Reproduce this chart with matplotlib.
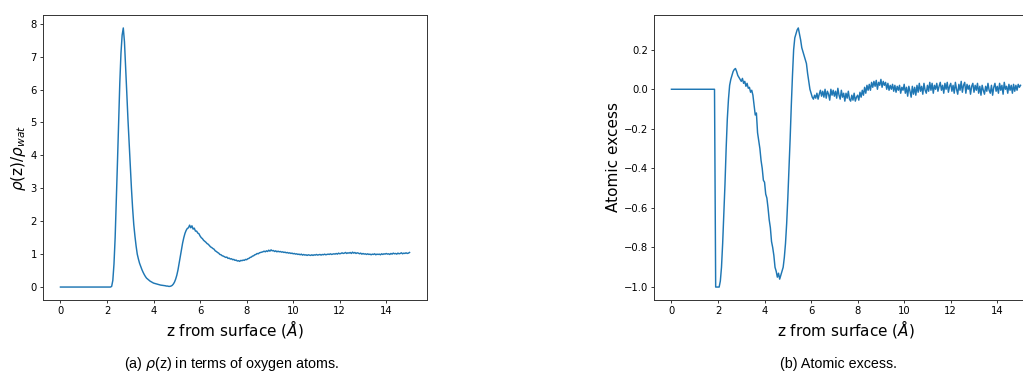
import numpy as np
import matplotlib
matplotlib.use("Agg")
from matplotlib import pyplot as plt

# density profile of oxygen atoms, rho(z)/rho_wat, one value every 0.05 A (rows of 0.5 A)
rho = [
    0, 0, 0, 0, 0, 0, 0, 0, 0, 0,
    0, 0, 0, 0, 0, 0, 0, 0, 0, 0,
    0, 0, 0, 0, 0, 0, 0, 0, 0, 0,
    0, 0, 0, 0, 0, 0, 0, 0, 0, 0,
    0, 0, 0, 0, 0.02, 0.2, 0.7, 1.5, 2.6, 3.8,
    5.0, 6.2, 7.1, 7.65, 7.87, 7.45, 6.7, 5.9, 5.1, 4.4,
    3.7, 3.0, 2.4, 1.9, 1.55, 1.25, 1.0, 0.85, 0.72, 0.62,
    0.53, 0.45, 0.38, 0.32, 0.27, 0.24, 0.21, 0.18, 0.16, 0.14,
    0.12, 0.11, 0.1, 0.09, 0.08, 0.07, 0.06, 0.055, 0.05, 0.045,
    0.04, 0.03, 0.03, 0.02, 0.02, 0.03, 0.05, 0.09, 0.15, 0.24,
    0.36, 0.52, 0.72, 0.93, 1.14, 1.34, 1.5, 1.63, 1.72, 1.78,
    1.8, 1.88, 1.8, 1.86, 1.76, 1.79, 1.7, 1.7, 1.64, 1.62,
    1.55, 1.5, 1.47, 1.42, 1.39, 1.36, 1.32, 1.3, 1.26, 1.22,
    1.2, 1.17, 1.15, 1.1, 1.08, 1.05, 1.03, 0.99, 0.98, 0.95,
    0.94, 0.92, 0.9, 0.91, 0.87, 0.88, 0.85, 0.86, 0.83, 0.84,
    0.81, 0.82, 0.79, 0.8, 0.78, 0.81, 0.8, 0.82, 0.81, 0.84,
    0.83, 0.86, 0.87, 0.9, 0.91, 0.94, 0.95, 0.98, 0.99, 1.02,
    1.01, 1.04, 1.05, 1.06, 1.07, 1.09, 1.07, 1.1, 1.08, 1.12,
    1.09, 1.13, 1.1, 1.11, 1.08, 1.1, 1.07, 1.09, 1.07, 1.08,
    1.06, 1.07, 1.05, 1.06, 1.04, 1.05, 1.03, 1.04, 1.02, 1.03,
    1.01, 1.02, 1.0, 1.01, 0.99, 1.0, 0.98, 1.0, 0.97, 0.99,
    0.97, 0.98, 0.96, 0.98, 0.97, 0.96, 0.98, 0.96, 0.98, 0.97,
    0.99, 0.97, 0.98, 0.99, 0.97, 0.99, 0.98, 1.0, 0.98, 0.99,
    1.0, 0.99, 1.01, 0.99, 1.0, 1.01, 1.0, 1.02, 1.0, 1.03,
    1.01, 1.02, 1.04, 1.02, 1.03, 1.05, 1.02, 1.04, 1.03, 1.05,
    1.02, 1.06, 1.03, 1.05, 1.02, 1.04, 1.03, 1.01, 1.03, 1.0,
    1.02, 1.0, 1.01, 0.99, 1.01, 0.99, 1.0, 0.98, 1.0, 0.99,
    1.01, 0.98, 1.0, 0.99, 1.0, 0.98, 1.01, 0.99, 1.01, 1.0,
    1.02, 1.0, 1.01, 0.99, 1.02, 1.0, 1.03, 1.01, 1.02, 1.0,
    1.03, 1.01, 1.02, 1.04, 1.01, 1.03, 1.02, 1.04, 1.02, 1.03,
    1.05,
]

# atomic excess, same spacing
excess = [
    0, 0, 0, 0, 0, 0, 0, 0, 0, 0,
    0, 0, 0, 0, 0, 0, 0, 0, 0, 0,
    0, 0, 0, 0, 0, 0, 0, 0, 0, 0,
    0, 0, 0, 0, 0, 0, 0, 0, -1.0, -1.0,
    -1.0, -1.0, -0.97, -0.9, -0.78, -0.63, -0.48, -0.3, -0.15, -0.05,
    0.02, 0.05, 0.07, 0.09, 0.1, 0.105, 0.09, 0.07, 0.06, 0.05,
    0.04, 0.055, 0.03, 0.04, 0.015, 0.03, 0.005, 0.01, -0.015, -0.005,
    -0.03, -0.08, -0.13, -0.12, -0.22, -0.26, -0.3, -0.36, -0.4, -0.46,
    -0.47, -0.53, -0.55, -0.6, -0.66, -0.7, -0.77, -0.8, -0.84, -0.9,
    -0.92, -0.95, -0.93, -0.96, -0.94, -0.92, -0.9, -0.85, -0.78, -0.68,
    -0.55, -0.4, -0.25, -0.08, 0.07, 0.2, 0.26, 0.28, 0.3, 0.31,
    0.28, 0.25, 0.21, 0.19, 0.17, 0.15, 0.13, 0.08, 0.04, 0.0,
    -0.02, -0.04, -0.05, -0.03, -0.045, -0.02, -0.05, -0.025, -0.005, -0.035,
    -0.01, -0.04, 0.0, -0.045, -0.01, -0.025, -0.055, 0.0, -0.03, -0.005,
    -0.035, -0.01, -0.045, 0.005, -0.03, -0.05, -0.005, -0.04, -0.02, -0.06,
    -0.02, -0.045, -0.01, -0.05, -0.06, -0.03, -0.055, -0.02, -0.06, -0.04,
    -0.03, -0.055, -0.015, -0.04, -0.005, -0.03, 0.01, -0.02, 0.02, -0.005,
    0.025, -0.005, 0.035, 0.01, 0.04, 0.015, 0.045, 0.0, 0.035, 0.02,
    0.05, 0.01, 0.04, 0.02, 0.035, 0.0, 0.03, -0.005, 0.02, 0.0,
    0.025, -0.01, 0.02, -0.015, 0.015, -0.005, 0.02, -0.02, 0.01, -0.005,
    0.025, -0.02, 0.01, -0.035, 0.015, -0.01, -0.04, 0.015, -0.025, 0.01,
    -0.03, 0.02, -0.015, 0.03, -0.01, 0.015, -0.025, 0.03, -0.005, -0.02,
    0.02, -0.01, 0.035, -0.005, 0.03, -0.02, 0.02, 0.0, 0.03, -0.01,
    0.015, 0.035, -0.005, 0.02, -0.02, 0.03, 0.0, 0.035, -0.015, 0.015,
    0.03, -0.01, 0.02, -0.02, 0.035, 0.0, -0.025, 0.025, -0.005, 0.04,
    -0.015, 0.02, 0.035, -0.02, 0.025, 0.0, 0.02, -0.025, 0.015, 0.03,
    -0.015, 0.02, -0.005, 0.03, -0.02, 0.015, -0.03, 0.02, -0.005, -0.025,
    0.015, -0.01, 0.03, -0.005, -0.02, 0.02, -0.03, 0.01, 0.03, -0.01,
    0.015, -0.02, 0.03, -0.005, 0.02, -0.025, 0.035, 0.0, 0.015, -0.02,
    0.025, -0.005, 0.02, -0.02, 0.025, -0.01, 0.02, -0.005, 0.025, 0.01,
    0.02,
]

z_rho = np.linspace(0, 15, len(rho))
z_exc = np.linspace(0, 15, len(excess))

xlabel = r"z from surface ($\AA$)"
captions = [r"(a) $\rho$(z) in terms of oxygen atoms.", "(b) Atomic excess."]

fig = plt.figure(figsize=(10.23, 3.71), dpi=100)

tick_kw = dict(labelsize=7.2, length=2.4, width=0.55, pad=2)

ax1 = fig.add_axes([43 / 1023, 71 / 371, 384 / 1023, 285 / 371])
ax1.plot(z_rho, rho, color="#1f77b4", lw=1.05)
ax1.set_xlabel(xlabel, fontsize=11, labelpad=1)
ax1.set_ylabel(r"$\rho$(z)/$\rho_{wat}$", fontsize=11, labelpad=2)
ax1.set_xticks(np.arange(0, 15, 2))

ax2 = fig.add_axes([654 / 1023, 71 / 371, 384 / 1023, 285 / 371])
ax2.plot(z_exc, excess, color="#1f77b4", lw=1.05)
ax2.set_xlabel(xlabel, fontsize=11, labelpad=1)
ax2.set_ylabel("Atomic excess", fontsize=11, labelpad=2)
ax2.set_xticks(np.arange(0, 15, 2))

for ax in (ax1, ax2):
    ax.tick_params(**tick_kw)
    for s in ax.spines.values():
        s.set_linewidth(0.7)
        s.set_color("#333333")

fig.text(231 / 1023, 0.008, captions[0], ha="center", va="baseline",
         fontsize=10.3, family=["Liberation Sans", "DejaVu Sans"])
fig.text(838 / 1023, 0.008, captions[1], ha="center", va="baseline",
         fontsize=10.3, family=["Liberation Sans", "DejaVu Sans"])

fig.savefig("out.png", dpi=100)
